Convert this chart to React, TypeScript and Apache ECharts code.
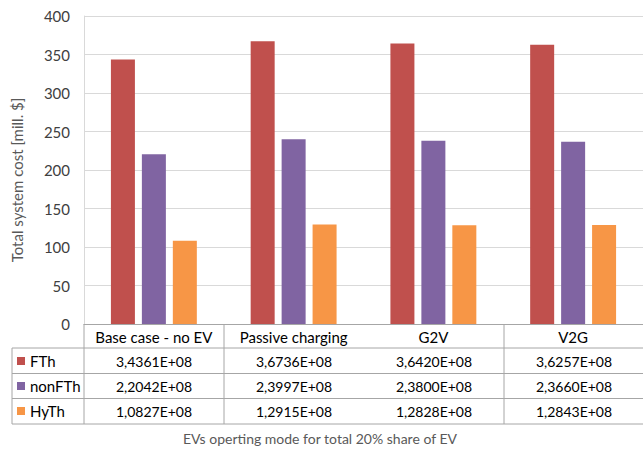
import React, { useEffect, useRef } from "react";
import * as echarts from "echarts";

const categories = ["Base case - no EV", "Passive charging", "G2V", "V2G"];
const seriesNames = ["FTh", "nonFTh", "HyTh"];
const fth = [343.61, 367.36, 364.2, 362.57];
const nonFth = [220.42, 239.97, 238.0, 236.6];
const hyTh = [108.27, 129.15, 128.28, 128.43];
const colors = ["#C0504D", "#8064A2", "#F79646"];
const yTicks = { min: 0, max: 400, interval: 50 };
const yTitle = "Total system cost [mill. $]";
const xTitle = "EVs operting mode for total 20% share of EV";

const FONT = "Lato, 'Open Sans', sans-serif";

function fmt(v: number): string {
  return (v / 100).toFixed(4).replace(".", ",") + "E+08";
}

export default function App() {
  const ref = useRef<HTMLDivElement>(null);
  useEffect(() => {
    if (!ref.current) return;
    const chart = echarts.init(ref.current, null, { renderer: "svg" });
    const G = { left: 84, top: 16, width: 560, height: 308 };
    const bottom = G.top + G.height;
    const rowLines = [348, 373.5, 398.5, 424];
    const lineColor = "#A6A6A6";
    const allData = [fth, nonFth, hyTh];
    const catW = G.width / categories.length;

    const graphics: any[] = [];
    rowLines.forEach((y) => {
      graphics.push({
        type: "line",
        shape: { x1: 12, y1: y, x2: G.left + G.width, y2: y },
        style: { stroke: lineColor, lineWidth: 1 },
        silent: true,
      });
    });
    graphics.push({
      type: "line",
      shape: { x1: 12, y1: rowLines[0], x2: 12, y2: rowLines[3] },
      style: { stroke: lineColor, lineWidth: 1 },
    });
    [0, 1, 3].forEach((i) => {
      const x = G.left + i * catW;
      graphics.push({
        type: "line",
        shape: { x1: x, y1: bottom, x2: x, y2: rowLines[3] },
        style: { stroke: lineColor, lineWidth: 1 },
      });
    });
    const rowCenters = [361, 386, 411];
    seriesNames.forEach((name, r) => {
      const cy = rowCenters[r];
      graphics.push({
        type: "rect",
        shape: { x: 17, y: cy - 4, width: 8, height: 8 },
        style: { fill: colors[r] },
      });
      graphics.push({
        type: "text",
        x: 30,
        y: cy,
        style: {
          text: name,
          font: `15px ${FONT}`,
          fill: "#000",
          verticalAlign: "middle",
          align: "left",
        },
      });
      allData[r].forEach((v, c) => {
        graphics.push({
          type: "text",
          x: G.left + (c + 0.5) * catW,
          y: cy,
          style: {
            text: fmt(v),
            font: `14px ${FONT}`,
            fill: "#000",
            verticalAlign: "middle",
            align: "center",
          },
        });
      });
    });
    graphics.push({
      type: "text",
      x: 320,
      y: 438,
      style: {
        text: xTitle,
        font: `14px ${FONT}`,
        fill: "#595959",
        verticalAlign: "middle",
        align: "center",
      },
    });
    graphics.push({
      type: "text",
      x: 17,
      y: 180,
      rotation: Math.PI / 2,
      style: {
        text: yTitle,
        font: `15px ${FONT}`,
        fill: "#595959",
        verticalAlign: "middle",
        align: "center",
      },
    });

    chart.setOption({
      animation: false,
      grid: { ...G, containLabel: false },
      xAxis: {
        type: "category",
        data: categories,
        axisLine: { show: true, lineStyle: { color: lineColor, width: 1 } },
        axisTick: { show: false },
        axisLabel: {
          color: "#000",
          fontSize: 15,
          fontFamily: FONT,
          margin: 5,
          interval: 0,
        },
      },
      yAxis: {
        type: "value",
        min: yTicks.min,
        max: yTicks.max,
        interval: yTicks.interval,
        axisLine: { show: true, lineStyle: { color: "#D9D9D9", width: 1 } },
        axisTick: { show: false },
        splitLine: { lineStyle: { color: "#D9D9D9", width: 1 } },
        axisLabel: {
          color: "#404040",
          fontSize: 15,
          fontFamily: FONT,
          margin: 14,
        },
      },
      series: seriesNames.map((name, i) => ({
        name,
        type: "bar",
        data: allData[i],
        barWidth: 24,
        barGap: "29%",
        itemStyle: { color: colors[i] },
      })),
      graphic: graphics,
    });
    return () => chart.dispose();
  }, []);
  return (
    <div
      ref={ref}
      style={{ position: "fixed", left: 0, top: 0, width: 643, height: 453, background: "#fff" }}
    />
  );
}
